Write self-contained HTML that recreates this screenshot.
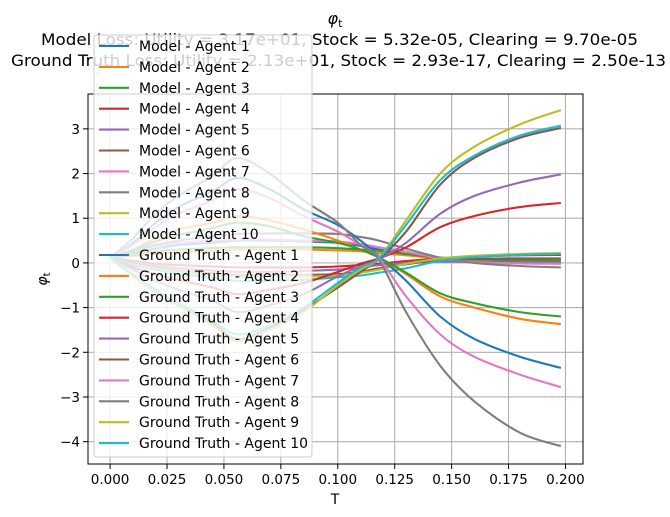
<!DOCTYPE html>
<html><head><meta charset="utf-8"><style>
body{margin:0;background:#fff}
svg{display:block;font-family:"DejaVu Sans","Liberation Sans",sans-serif}
</style></head><body>
<svg id="chart" width="670" height="517" viewBox="0 0 670 517" xmlns="http://www.w3.org/2000/svg">
<rect width="670" height="517" fill="#fff"/>
<g id="grid"></g>
<g id="lines"></g>
<rect x="88" y="94" width="495" height="370" fill="none" stroke="#000" stroke-width="1"/>
<g id="ticks" font-size="13.5"></g>
<text x="335" y="24" font-size="16" text-anchor="middle" font-style="italic">φ<tspan font-size="11" dy="3" font-style="normal">t</tspan></text>
<text x="41" y="45" font-size="16" textLength="597" lengthAdjust="spacingAndGlyphs">Model Loss: Utility = 3.17e+01, Stock = 5.32e-05, Clearing = 9.70e-05</text>
<text x="11" y="66" font-size="16" textLength="655" lengthAdjust="spacingAndGlyphs">Ground Truth Loss: Utility = 2.13e+01, Stock = 2.93e-17, Clearing = 2.50e-13</text>
<text x="335" y="504" font-size="14" text-anchor="middle">T</text>
<text transform="translate(47,279) rotate(-90)" font-size="14" text-anchor="middle" font-style="italic">φ<tspan font-size="10" dy="3" font-style="normal">t</tspan></text>
<g id="legend"></g>
</svg>
<script>
const NS="http://www.w3.org/2000/svg";
const colors=["#1f77b4","#ff7f0e","#2ca02c","#d62728","#9467bd","#8c564b","#e377c2","#7f7f7f","#bcbd22","#17becf"];
const tVals=[0,0.01,0.02,0.03,0.045,0.056,0.07,0.085,0.1,0.11,0.118,0.13,0.145,0.16,0.18,0.198];
const xTicks=[0,0.025,0.05,0.075,0.1,0.125,0.15,0.175,0.2];
const xTickLabels=["0.000","0.025","0.050","0.075","0.100","0.125","0.150","0.175","0.200"];
const yTicks=[-4,-3,-2,-1,0,1,2,3];
const yTickLabels=["−4","−3","−2","−1","0","1","2","3"];
const model1=[0.12,0.22,0.32,0.4,0.45,0.5,0.5,0.48,0.45,0.38,0.3,0.2,0.1,0.06,0.04,0.03];
const model2=[0.12,0.16,0.2,0.24,0.27,0.3,0.3,0.3,0.28,0.26,0.22,0.17,0.1,0.07,0.06,0.05];
const model3=[0.12,0.18,0.25,0.3,0.33,0.35,0.35,0.35,0.33,0.3,0.27,0.2,0.12,0.08,0.06,0.05];
const model4=[0.12,0.05,-0.02,-0.05,-0.08,-0.1,-0.1,-0.1,-0.08,-0.05,-0.02,0.04,0.1,0.14,0.17,0.18];
const model5=[0.12,0.02,-0.07,-0.12,-0.17,-0.2,-0.2,-0.18,-0.15,-0.1,-0.05,0.0,0.03,0.02,0.01,0.0];
const model6=[0.12,0.0,-0.1,-0.18,-0.23,-0.27,-0.27,-0.27,-0.25,-0.2,-0.12,-0.03,0.06,0.09,0.1,0.1];
const model7=[0.12,0.25,0.38,0.45,0.5,0.52,0.52,0.5,0.48,0.42,0.35,0.25,0.1,0.02,-0.01,-0.02];
const model8=[0.12,0.25,0.4,0.5,0.6,0.65,0.66,0.66,0.65,0.58,0.5,0.32,0.12,0.0,-0.07,-0.1];
const model9=[0.12,-0.03,-0.12,-0.2,-0.27,-0.3,-0.3,-0.3,-0.28,-0.22,-0.15,-0.02,0.1,0.16,0.2,0.22];
const model10=[0.12,-0.05,-0.15,-0.25,-0.33,-0.4,-0.4,-0.38,-0.32,-0.28,-0.22,-0.12,0.05,0.13,0.18,0.2];
const gt1=[0.12,0.45,0.9,1.25,1.6,1.9,1.65,1.2,0.85,0.5,0.15,-0.4,-1.2,-1.7,-2.1,-2.35];
const gt2=[0.12,0.3,0.55,0.75,0.9,1.05,0.95,0.75,0.5,0.3,0.12,-0.25,-0.75,-1.0,-1.25,-1.37];
const gt3=[0.12,0.28,0.48,0.62,0.78,0.9,0.82,0.6,0.45,0.3,0.12,-0.22,-0.68,-0.9,-1.1,-1.2];
const gt4=[0.12,-0.1,-0.25,-0.38,-0.55,-0.7,-0.6,-0.45,-0.2,-0.02,0.1,0.35,0.8,1.05,1.25,1.34];
const gt5=[0.12,-0.15,-0.4,-0.6,-0.85,-1.1,-0.95,-0.7,-0.3,-0.08,0.08,0.45,1.1,1.5,1.8,1.98];
const gt6=[0.12,-0.3,-0.65,-0.95,-1.35,-1.7,-1.45,-1.05,-0.55,-0.2,0.08,0.7,1.75,2.35,2.8,3.02];
const gt7=[0.12,0.4,0.8,1.1,1.4,1.65,1.45,1.05,0.7,0.4,0.12,-0.75,-1.6,-2.1,-2.5,-2.78];
const gt8=[0.12,0.55,1.1,1.5,1.95,2.35,2.0,1.4,0.9,0.4,0.08,-1.1,-2.3,-3.1,-3.8,-4.1];
const gt9=[0.12,-0.3,-0.65,-0.95,-1.4,-1.75,-1.5,-1.1,-0.5,-0.15,0.1,0.95,2.0,2.6,3.1,3.42];
const gt10=[0.12,-0.25,-0.6,-0.9,-1.3,-1.6,-1.4,-1.0,-0.45,-0.1,0.1,0.85,1.85,2.4,2.85,3.07];
const modelSeries=[model1,model2,model3,model4,model5,model6,model7,model8,model9,model10];
const gtSeries=[gt1,gt2,gt3,gt4,gt5,gt6,gt7,gt8,gt9,gt10];

const X0=88,X1=583,Y0=94,Y1=464,xMin=-0.0097,xMax=0.2077,yMin=-4.5,yMax=3.78;
const xs=v=>X0+(v-xMin)/(xMax-xMin)*(X1-X0);
const ys=v=>Y1-(v-yMin)/(yMax-yMin)*(Y1-Y0);
function mk(tag,attrs,parent){const e=document.createElementNS(NS,tag);for(const k in attrs)e.setAttribute(k,attrs[k]);parent.appendChild(e);return e;}
const grid=document.getElementById('grid'),ticks=document.getElementById('ticks'),lines=document.getElementById('lines'),legend=document.getElementById('legend');
xTicks.forEach((v,i)=>{
  const gl=mk('line',{x1:xs(v),x2:xs(v),y1:Y0,y2:Y1,stroke:'#b0b0b0','stroke-width':1.1},grid);
  
  
  const tk=mk('line',{x1:xs(v),x2:xs(v),y1:Y1,y2:Y1+5,stroke:'#000','stroke-width':1},ticks);
  
  
  const tl=mk('text',{x:xs(v),y:Y1+20,'text-anchor':'middle'},ticks);
  tl.textContent=xTickLabels[i];
  
  
});
yTicks.forEach((v,i)=>{
  const gl=mk('line',{x1:X0,x2:X1,y1:ys(v),y2:ys(v),stroke:'#b0b0b0','stroke-width':1.1},grid);
  
  
  const tk=mk('line',{x1:X0-5,x2:X0,y1:ys(v),y2:ys(v),stroke:'#000','stroke-width':1},ticks);
  
  
  const tl=mk('text',{x:X0-8,y:ys(v)+5,'text-anchor':'end'},ticks);
  tl.textContent=yTickLabels[i];
  
  
});
function smoothPath(vals){
  const p=vals.map((v,i)=>[xs(tVals[i]),ys(v)]);
  let d='M'+p[0][0].toFixed(1)+','+p[0][1].toFixed(1);
  for(let i=0;i<p.length-1;i++){
    const a=p[Math.max(i-1,0)],b=p[i],c=p[i+1],e=p[Math.min(i+2,p.length-1)];
    const c1=[b[0]+(c[0]-a[0])/6,b[1]+(c[1]-a[1])/6],c2=[c[0]-(e[0]-b[0])/6,c[1]-(e[1]-b[1])/6];
    d+=' C'+c1[0].toFixed(1)+','+c1[1].toFixed(1)+' '+c2[0].toFixed(1)+','+c2[1].toFixed(1)+' '+c[0].toFixed(1)+','+c[1].toFixed(1);
  }
  return d;
}
const legendItems=[];
modelSeries.forEach((s,i)=>{
  const p=mk('path',{d:smoothPath(s),fill:'none',stroke:colors[i],'stroke-width':2.1},lines);
  
  
  legendItems.push(['Model - Agent '+(i+1),colors[i]]);
});
gtSeries.forEach((s,i)=>{
  const p=mk('path',{d:smoothPath(s),fill:'none',stroke:colors[i],'stroke-width':2.1},lines);
  
  
  legendItems.push(['Ground Truth - Agent '+(i+1),colors[i]]);
});
const box=mk('rect',{x:94,y:35,width:218,height:422,rx:3,fill:'#fff','fill-opacity':0.8,stroke:'#ccc','stroke-width':1},legend);


legendItems.forEach((it,i)=>{
  const y=46+i*20.9;
  const g=mk('g',{},legend);
  
  
  mk('line',{x1:99,x2:129,y1:y,y2:y,stroke:it[1],'stroke-width':2.1},g);
  const t=mk('text',{x:139,y:y+5,'font-size':14,fill:'#000'},g);
  t.textContent=it[0];
});
</script>
</body></html>
